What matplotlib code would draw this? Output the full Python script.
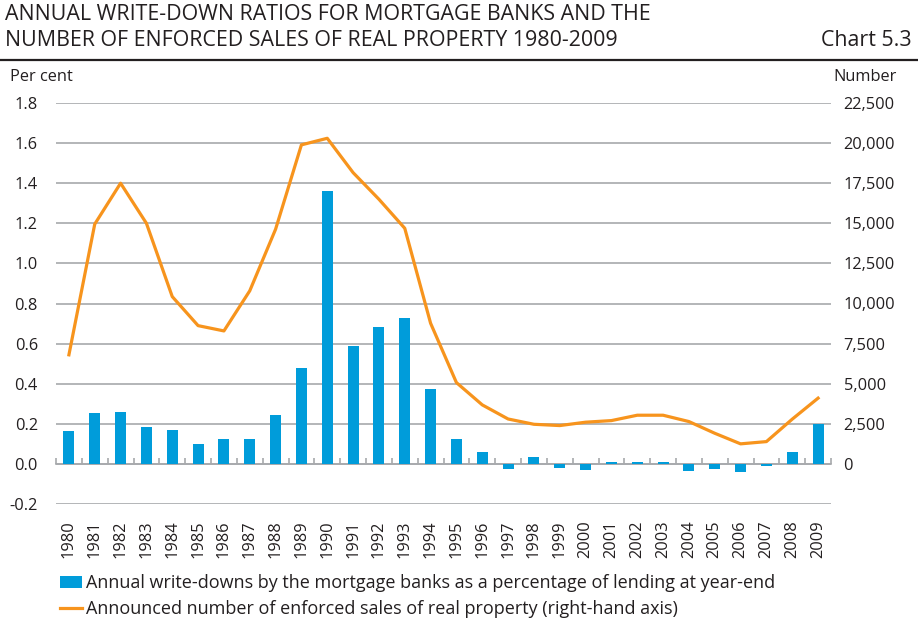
import matplotlib
matplotlib.use("Agg")
import matplotlib.pyplot as plt
import numpy as np

years = list(range(1980, 2010))
writedowns = [0.165, 0.255, 0.26, 0.185, 0.17, 0.10, 0.125, 0.125, 0.245, 0.48,
              1.36, 0.59, 0.685, 0.73, 0.375, 0.125, 0.06, -0.025, 0.035, -0.02,
              -0.03, 0.008, 0.008, 0.008, -0.035, -0.025, -0.04, -0.008, 0.06, 0.20]
enforced_sales = [6800, 14950, 17500, 15000, 10430, 8620, 8290, 10790, 14630, 19890,
                  20300, 18160, 16500, 14690, 8770, 5070, 3680, 2800, 2470, 2390,
                  2600, 2700, 3035, 3035, 2640, 1910, 1250, 1390, 2790, 4100]

left_ticks = [-0.2, 0.0, 0.2, 0.4, 0.6, 0.8, 1.0, 1.2, 1.4, 1.6, 1.8]
right_ticks = list(range(0, 22501, 2500))

BLUE = "#009cda"
ORANGE = "#f7941d"
GRID = "#a7a9ac"
TEXT = "#231f20"

plt.rcParams["font.family"] = ["Open Sans", "DejaVu Sans"]

fig = plt.figure(figsize=(9.18, 6.23), dpi=100)
ax = fig.add_axes([56 / 918, 1 - 504 / 623, 775 / 918, 401 / 623])

x = np.arange(len(years))
ax.bar(x, writedowns, width=0.43, color=BLUE, zorder=3,
       label="Annual write-downs by the mortgage banks as a percentage of lending at year-end")

ax.set_xlim(-0.5, len(years) - 0.5)
ax.set_ylim(-0.2, 1.8)
ax.set_yticks(left_ticks)
ax.set_yticklabels([f"{v:.1f}" for v in left_ticks])
ax.yaxis.grid(True, color=GRID, lw=1.2)
ax.set_axisbelow(True)
for s in ax.spines.values():
    s.set_visible(False)
ax.tick_params(axis="y", length=0, pad=13, labelsize=11.8, labelcolor=TEXT)
ax.set_xticks(x)
ax.set_xticklabels([str(y) for y in years], rotation=90)
ax.tick_params(axis="x", length=0, pad=12, labelsize=11.8, labelcolor=TEXT)

# zero line with category boundary ticks
zero = ax.secondary_xaxis(0.2 / 2.0)
zero.spines["bottom"].set_color(GRID)
zero.spines["bottom"].set_linewidth(1.2)
zero.set_xticks(np.arange(-0.5, len(years), 1.0))
zero.tick_params(axis="x", direction="in", length=4, width=1.2, color=GRID, labelbottom=False)

ax2 = ax.twinx()
ax2.plot(x, enforced_sales, color=ORANGE, lw=2.3, zorder=4,
         label="Announced number of enforced sales of real property (right-hand axis)")
ax2.set_ylim(-2500, 22500)
ax2.set_yticks(right_ticks)
ax2.set_yticklabels([f"{v:,}" for v in right_ticks])
for s in ax2.spines.values():
    s.set_visible(False)
ax2.tick_params(axis="y", length=0, pad=9, labelsize=11.8, labelcolor=TEXT)

fig.text(10 / 918, 1 - 77 / 623, "Per cent", fontsize=11.8, color=TEXT, va="center", ha="left")
fig.text(897 / 918, 1 - 77 / 623, "Number", fontsize=11.8, color=TEXT, va="center", ha="right")

fig.text(5 / 918, 1 - 14 / 623, "ANNUAL WRITE-DOWN RATIOS FOR MORTGAGE BANKS AND THE",
         fontsize=15.4, color=TEXT, va="center", ha="left")
fig.text(5 / 918, 1 - 40 / 623, "NUMBER OF ENFORCED SALES OF REAL PROPERTY 1980-2009",
         fontsize=15.4, color=TEXT, va="center", ha="left")
fig.text(912 / 918, 1 - 40 / 623, "Chart 5.3", fontsize=15.4,
         color=TEXT, va="center", ha="right")
fig.add_artist(plt.Line2D([0, 1], [1 - 60 / 623, 1 - 60 / 623], color=TEXT, lw=1.6,
                          transform=fig.transFigure))

h1, l1 = ax.get_legend_handles_labels()
h2, l2 = ax2.get_legend_handles_labels()
fig.legend(h1 + h2, l1 + l2, loc="upper left", bbox_to_anchor=(60 / 918, 1 - 574 / 623),
           frameon=False, prop={"size": 13}, labelcolor=TEXT,
           handlelength=1.22, handleheight=0.67, handletextpad=0.22, labelspacing=0.45,
           borderpad=0, borderaxespad=0)

fig.savefig("out.png", dpi=100)
